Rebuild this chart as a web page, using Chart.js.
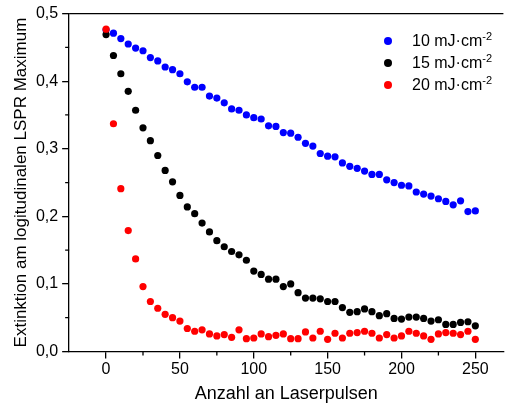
<!DOCTYPE html>
<html>
<head>
<meta charset="utf-8">
<title>Extinktion vs Laserpulse</title>
<script src="https://cdn.jsdelivr.net/npm/chart.js@4.4.1/dist/chart.umd.min.js"></script>
<style>
  html, body { margin: 0; padding: 0; background: #fff; overflow: hidden; }
  #wrap { position: relative; width: 507px; height: 405px; }
  #legend { position: absolute; left: 384px; top: 30px; font: 16px "Liberation Sans", Arial, sans-serif; color: #000; }
  #legend .row { height: 22px; line-height: 22px; white-space: nowrap; }
  #legend .dot { display: inline-block; width: 8px; height: 8px; border-radius: 50%; margin-right: 20px; vertical-align: 1px; }
  #legend sup { font-size: 11px; vertical-align: 6px; line-height: 0; }
</style>
</head>
<body>
<div id="wrap">
  <canvas id="myChart" width="507" height="405"></canvas>
  <div id="legend"></div>
</div>

<script>
    // x values: number of laser pulses
    const pulses = [0, 5, 10, 15, 20, 25, 30, 35, 40, 45, 50, 55, 60, 65, 70, 75, 80, 85, 90, 95,
        100, 105, 110, 115, 120, 125, 130, 135, 140, 145, 150, 155, 160, 165, 170, 175, 180, 185, 190, 195,
        200, 205, 210, 215, 220, 225, 230, 235, 240, 245, 250];

    // 10 mJ/cm2
    const ext10 = [0.476, 0.471, 0.463, 0.455, 0.449, 0.445, 0.435, 0.430, 0.421, 0.417,
        0.411, 0.399, 0.391, 0.391, 0.378, 0.375, 0.368, 0.359, 0.357, 0.350,
        0.346, 0.344, 0.334, 0.333, 0.324, 0.323, 0.317, 0.308, 0.304, 0.293,
        0.289, 0.288, 0.279, 0.274, 0.271, 0.267, 0.262, 0.262, 0.254, 0.250,
        0.246, 0.245, 0.236, 0.233, 0.230, 0.226, 0.222, 0.217, 0.223, 0.207, 0.208];

    // 15 mJ/cm2
    const ext15 = [0.469, 0.438, 0.411, 0.385, 0.357, 0.331, 0.312, 0.290, 0.268, 0.251,
        0.231, 0.214, 0.204, 0.190, 0.177, 0.164, 0.155, 0.148, 0.143, 0.135,
        0.119, 0.114, 0.107, 0.107, 0.096, 0.100, 0.087, 0.079, 0.079, 0.078,
        0.074, 0.074, 0.065, 0.058, 0.059, 0.063, 0.059, 0.053, 0.056, 0.049,
        0.048, 0.051, 0.051, 0.049, 0.045, 0.047, 0.040, 0.040, 0.043, 0.044, 0.038];

    // 20 mJ/cm2
    const ext20 = [0.477, 0.337, 0.241, 0.179, 0.137, 0.096, 0.074, 0.064, 0.055, 0.050,
        0.045, 0.034, 0.030, 0.032, 0.026, 0.023, 0.025, 0.021, 0.032, 0.019,
        0.020, 0.026, 0.022, 0.024, 0.026, 0.019, 0.019, 0.029, 0.020, 0.030,
        0.018, 0.027, 0.020, 0.027, 0.028, 0.030, 0.027, 0.020, 0.025, 0.020,
        0.023, 0.030, 0.027, 0.023, 0.018, 0.026, 0.028, 0.027, 0.025, 0.030, 0.018];

    const seriesNames = ["10 mJ·cm", "15 mJ·cm", "20 mJ·cm"];
    const seriesColors = ["#0000ff", "#000000", "#ff0000"];
    const seriesData = [ext10, ext15, ext20];

    const xTicks = [0, 50, 100, 150, 200, 250];
    const xMinorTicks = [25, 75, 125, 175, 225];
    const yTicks = [0, 0.1, 0.2, 0.3, 0.4, 0.5];
    const yMinorTicks = [0.05, 0.15, 0.25, 0.35, 0.45];

    const FONT = "'Liberation Sans', Arial, sans-serif";

    // legend as html so the exponent can be a real superscript
    const legendEl = document.getElementById("legend");
    seriesNames.forEach(function(name, i) {
        const row = document.createElement("div");
        row.className = "row";
        row.innerHTML = '<span class="dot" style="background:' + seriesColors[i] + '"></span>' +
            name + '<sup>-2</sup>';
        legendEl.appendChild(row);
    });

    // top frame line + short minor ticks
    const frameTicks = {
        id: "frameTicks",
        afterDraw(chart) {
            const ctx = chart.ctx;
            const a = chart.chartArea;
            const xs = chart.scales.x, ys = chart.scales.y;
            ctx.save();
            ctx.strokeStyle = "#000";
            ctx.lineWidth = 1.3;
            ctx.beginPath();
            ctx.moveTo(a.left, a.top);
            ctx.lineTo(a.right, a.top);
            xMinorTicks.forEach(function(v) {
                const px = xs.getPixelForValue(v);
                ctx.moveTo(px, a.bottom);
                ctx.lineTo(px, a.bottom + 4);
            });
            yMinorTicks.forEach(function(v) {
                const py = ys.getPixelForValue(v);
                ctx.moveTo(a.left, py);
                ctx.lineTo(a.left - 4, py);
            });
            ctx.stroke();
            ctx.restore();
        }
    };

    const datasets = seriesData.map(function(vals, i) {
        return {
            label: seriesNames[i],
            data: pulses.map(function(p, j) { return { x: p, y: vals[j] }; }),
            backgroundColor: seriesColors[i],
            borderColor: seriesColors[i],
            borderWidth: 0,
            pointRadius: 3.6,
            pointHoverRadius: 3.6,
            showLine: false,
            order: 2 - i   // red drawn on top
        };
    });

    new Chart("myChart", {
        type: "scatter",
        data: { datasets: datasets },
        plugins: [frameTicks],
        options: {
            responsive: false,
            animation: false,
            layout: { padding: { left: 8, top: 10, right: 0, bottom: 0 } },
            plugins: {
                legend: { display: false },
                tooltip: { enabled: false }
            },
            scales: {
                x: {
                    type: "linear",
                    min: -25,
                    max: 269,
                    afterBuildTicks: function(s) { s.ticks = xTicks.map(function(v) { return { value: v }; }); },
                    grid: { drawOnChartArea: false, tickLength: 7, color: "#000", lineWidth: 1.3 },
                    border: { color: "#000", width: 1.3 },
                    ticks: {
                        color: "#000", padding: 1.5, maxRotation: 0,
                        font: { family: FONT, size: 16 },
                        callback: function(v) { return String(v); }
                    },
                    title: {
                        display: true, text: "Anzahl an Laserpulsen", color: "#000",
                        font: { family: FONT, size: 18 }, padding: { top: 2.7, bottom: 0 }
                    }
                },
                y: {
                    type: "linear",
                    min: 0,
                    max: 0.5,
                    afterBuildTicks: function(s) { s.ticks = yTicks.map(function(v) { return { value: v }; }); },
                    grid: { drawOnChartArea: false, tickLength: 7, color: "#000", lineWidth: 1.3 },
                    border: { color: "#000", width: 1.3 },
                    ticks: {
                        color: "#000", padding: 4,
                        font: { family: FONT, size: 16 },
                        callback: function(v) { return v.toFixed(1).replace(".", ","); }
                    },
                    title: {
                        display: true, text: "Extinktion am logitudinalen LSPR Maximum", color: "#000",
                        font: { family: FONT, size: 17 }, padding: { top: 3, bottom: 0.5 }
                    }
                }
            }
        }
    });
</script>
</body>
</html>
